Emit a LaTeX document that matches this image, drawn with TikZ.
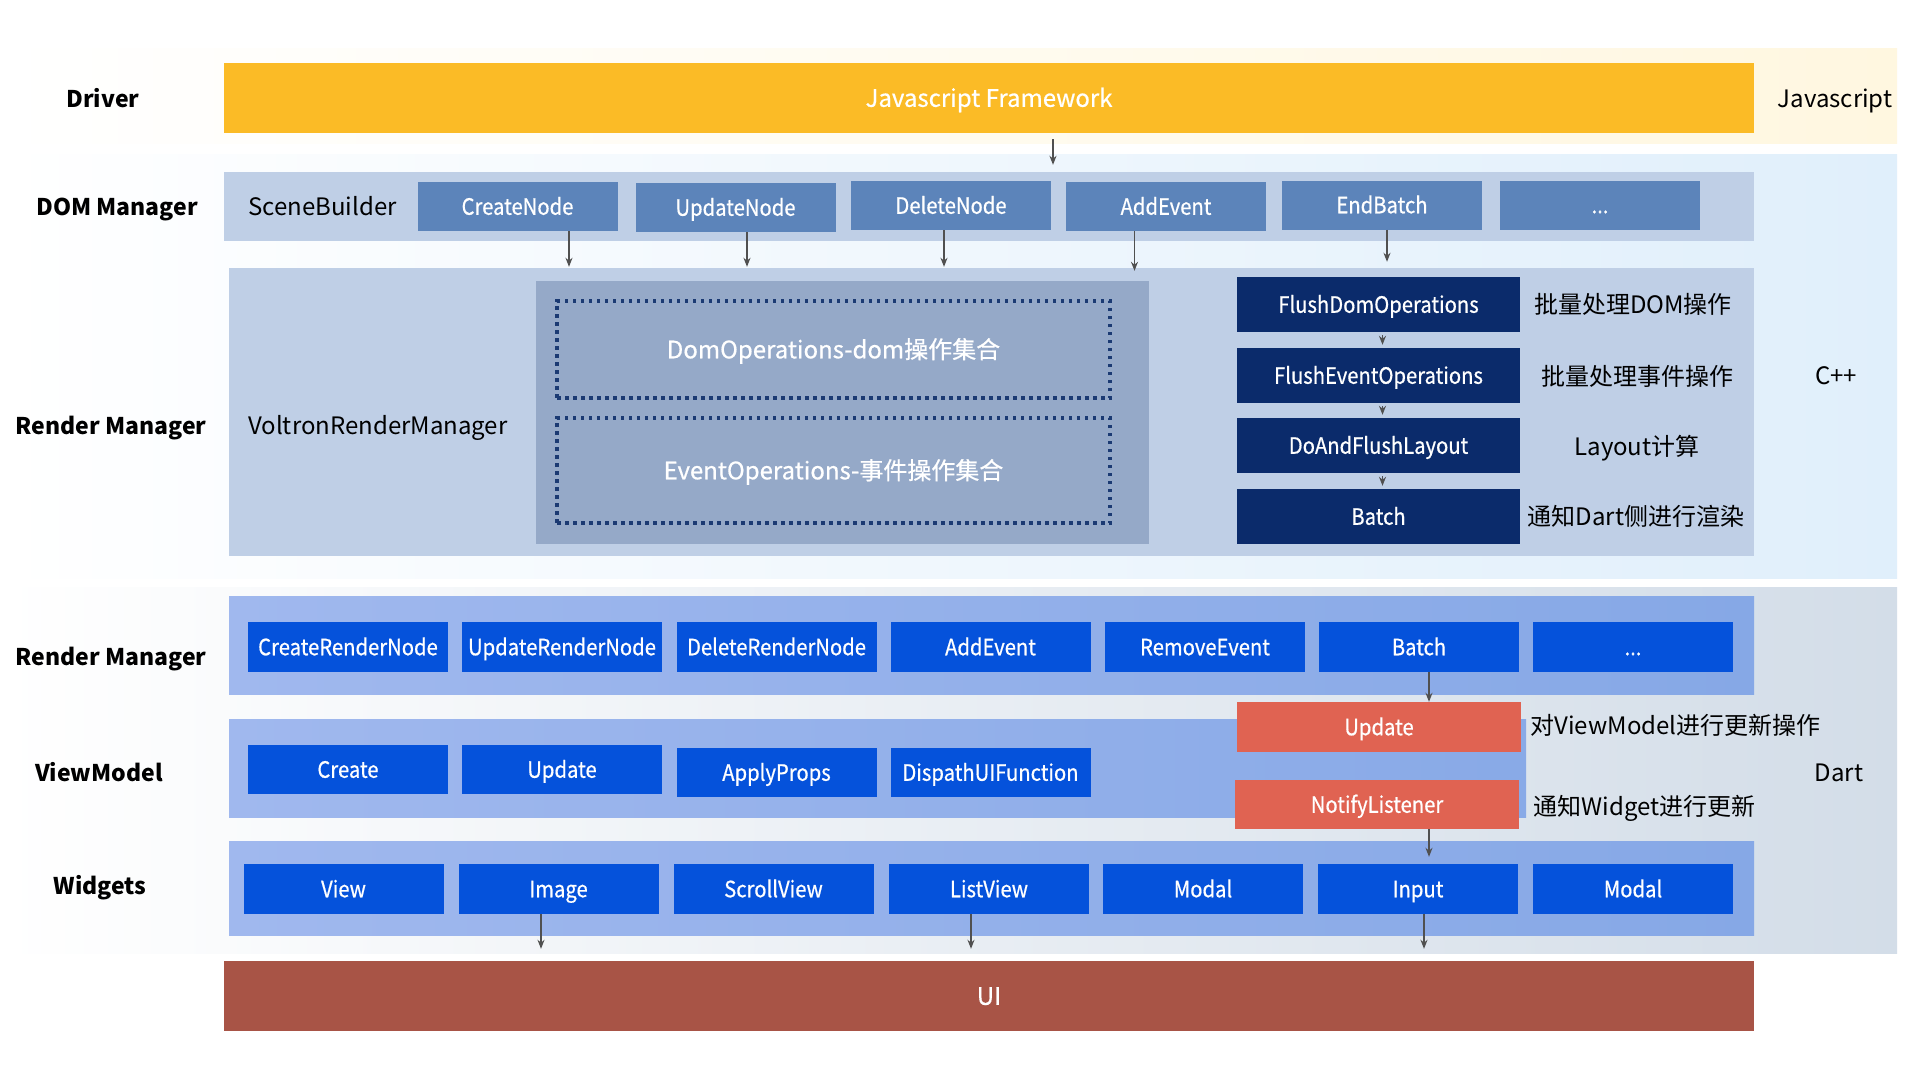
\documentclass[tikz,border=0pt]{standalone}
\usepackage{fontspec}
\setmainfont{Noto Sans CJK SC}
\newfontfamily\btnfont{Noto Sans CJK SC}[FakeStretch=0.9,FakeBold=0.6]
\newfontfamily\wfont{Noto Sans CJK SC}[FakeBold=0.6]
\usetikzlibrary{arrows.meta}
\definecolor{orangebar}{HTML}{FBBB26}
\definecolor{dombar}{HTML}{BFCFE6}
\definecolor{dombtn}{HTML}{5C84BA}
\definecolor{inner}{HTML}{95A9C8}
\definecolor{dotc}{HTML}{1B3A73}
\definecolor{navy}{HTML}{0B2B6B}
\definecolor{dartbtn}{HTML}{0552DB}
\definecolor{dartL}{HTML}{A0B8EE}
\definecolor{dartR}{HTML}{86A8E6}
\definecolor{redbox}{HTML}{E06352}
\definecolor{uibar}{HTML}{A85446}
\definecolor{ybg}{HTML}{FFF7E0}
\definecolor{cbg}{HTML}{E0EFFB}
\definecolor{dbg}{HTML}{D3DDE8}
\definecolor{arrc}{HTML}{505050}
\tikzset{
  lbl/.style={font=\fontsize{23}{27}\selectfont\bfseries, text=black, inner sep=0, text height=17.9pt, text depth=1pt},
  txt/.style={font=\fontsize{24}{28}\selectfont, text=black, inner sep=0, text height=18.6pt, text depth=1pt},
  wtxt/.style={text=white, font=\wfont\fontsize{24}{28}\selectfont, text height=18.6pt, text depth=1pt},
  bar/.style={draw=none, inner sep=0, minimum width=1525pt},
  btnbox/.style={draw=none, inner sep=0, minimum width=200pt, minimum height=50pt, text=white, font=\btnfont\fontsize{22.5}{26}\selectfont, text height=18pt, text depth=1.5pt},
  dbtn/.style={btnbox, fill=dombtn},
  nbtn/.style={btnbox, fill=navy, minimum width=283pt, minimum height=55pt},
  bbtn/.style={btnbox, fill=dartbtn},
  rbtn/.style={btnbox, fill=redbox, minimum width=284pt},
  dotbox/.style={wtxt, draw=dotc, line width=3.5pt, dash pattern=on 3.5pt off 4.5pt, minimum width=553pt, inner sep=0},
  arr/.style={draw=arrc, line width=1.4pt, -{Stealth[length=9pt,width=7pt]}}
}
\begin{document}
\begin{tikzpicture}[x=1pt,y=-1pt]
\useasboundingbox (0,0) rectangle (1920,1080);
\fill[white] (0,0) rectangle (1920,1080);
% background regions
\shade[left color=white, right color=ybg] (0,48) rectangle (1897,143);
\shade[left color=white, right color=cbg] (0,154) rectangle (1897,578);
\shade[left color=white, right color=dbg] (0,587) rectangle (1897,953);

% Driver
\node[lbl] (lDriver) at (103,99) {Driver};
\node[bar, wtxt, fill=orangebar, minimum width=1530pt, minimum height=70pt] (js) at (989,98) {Javascript Framework};
\node[txt] (lJs) at (1835,99) {Javascript};

% DOM Manager
\node[lbl] (lDom) at (117,207) {DOM Manager};
\node[bar, fill=dombar, minimum width=1530pt, minimum height=69pt] (dom) at (989,206.5) {};
\node[txt, anchor=west] (scene) at (248,207) {SceneBuilder};
\node[dbtn, minimum height=49pt] (cn) at (517.5,206.5) {CreateNode};
\node[dbtn, minimum height=49pt] (un) at (735.5,207.5) {UpdateNode};
\node[dbtn, minimum height=49pt] (dn) at (951,205.5) {DeleteNode};
\node[dbtn, minimum height=49pt] (ae) at (1166,206.5) {AddEvent};
\node[dbtn, minimum height=49pt] (eb) at (1382,205) {EndBatch};
\node[dbtn, minimum height=49pt] (dd) at (1600,205) {...};
\draw[arr, shorten <=6pt, shorten >=7pt] ([xshift=64pt]js.south) -- ([xshift=64pt]js.south |- dom.north);

% Render Manager (C++)
\node[lbl] (lRm) at (111,426) {Render Manager};
\node[bar, fill=dombar, minimum height=288pt] (rm) at (991.5,412) {};
\node[txt, anchor=west] (voltron) at (248,426) {VoltronRenderManager};
\node[fill=inner, inner sep=0, minimum width=613pt, minimum height=263pt] (inbox) at (842.5,412.5) {};
\node[dotbox, minimum height=97pt] (domops) at (833.5,349.5) {DomOperations-dom操作集合};
\node[dotbox, minimum height=105pt] (evops) at (833.5,470.5) {EventOperations-事件操作集合};
\node[nbtn] (fd) at (1378.5,304.5) {FlushDomOperations};
\node[nbtn] (fe) at (1378.5,375.5) {FlushEventOperations};
\node[nbtn] (dl) at (1378.5,445.5) {DoAndFlushLayout};
\node[nbtn] (bt) at (1378.5,516.5) {Batch};
\node[txt] (t1) at (1633,305) {批量处理DOM操作};
\node[txt] (t2) at (1637,377) {批量处理事件操作};
\node[txt] (t3) at (1637,447) {Layout计算};
\node[txt] (t4) at (1636,517) {通知Dart侧进行渲染};
\node[txt] (lCpp) at (1836,376) {C++};
\draw[arr, shorten <=3pt, shorten >=3pt] ([xshift=4pt]fd.south) -- ([xshift=4pt]fe.north);
\draw[arr, shorten <=3pt, shorten >=3pt] ([xshift=4pt]fe.south) -- ([xshift=4pt]dl.north);
\draw[arr, shorten <=3pt, shorten >=3pt] ([xshift=4pt]dl.south) -- ([xshift=4pt]bt.north);
% DOM -> Render manager arrows
\draw[arr, shorten >=1pt] ([xshift=51.5pt]cn.south) -- ([xshift=51.5pt]cn.south |- rm.north);
\draw[arr, shorten >=1pt] ([xshift=11.5pt]un.south) -- ([xshift=11.5pt]un.south |- rm.north);
\draw[arr, shorten >=1pt] ([xshift=-7pt]dn.south) -- ([xshift=-7pt]dn.south |- rm.north);
\draw[arr, shorten >=-3pt] ([xshift=-31.5pt]ae.south) -- ([xshift=-31.5pt]ae.south |- rm.north);
\draw[arr, shorten >=6pt] ([xshift=5pt]eb.south) -- ([xshift=5pt]eb.south |- rm.north);

% Render Manager (Dart)
\node[lbl] (lRm2) at (111,657) {Render Manager};
\node[bar, left color=dartL, right color=dartR, minimum height=98pt] (rmd) at (991.5,645) {};
\node[bbtn] (crn) at (348,647) {CreateRenderNode};
\node[bbtn] (urn) at (562,647) {UpdateRenderNode};
\node[bbtn] (drn) at (776.5,647) {DeleteRenderNode};
\node[bbtn] (aev) at (990.5,647) {AddEvent};
\node[bbtn] (rev) at (1205,647) {RemoveEvent};
\node[bbtn] (dbt) at (1419,647) {Batch};
\node[bbtn] (ddd) at (1633,647) {...};

% ViewModel
\node[lbl] (lVm) at (99,773) {ViewModel};
\node[bar, left color=dartL, right color=dartR!90!dartL, minimum width=1297pt, minimum height=98pt] (vm) at (877.5,768) {};
\node[bbtn, minimum height=49pt] (cr) at (348,769.5) {Create};
\node[bbtn, minimum height=49pt] (up) at (562,769.5) {Update};
\node[bbtn, minimum height=49pt] (ap) at (776.5,772.5) {ApplyProps};
\node[bbtn, minimum height=49pt] (dui) at (990.5,772.5) {DispathUIFunction};
\node[rbtn] (rupd) at (1379,727) {Update};
\node[rbtn, minimum height=49pt] (nl) at (1377,804.5) {NotifyListener};
\node[txt] (t5) at (1675.5,726) {对ViewModel进行更新操作};
\node[txt] (t6) at (1644.5,807) {通知Widget进行更新};
\node[txt] (lDart) at (1839,773) {Dart};
\draw[arr] ([xshift=10pt]dbt.south) -- ([xshift=10pt]dbt.south |- rupd.north);

% Widgets
\node[lbl] (lW) at (100,886) {Widgets};
\node[bar, left color=dartL, right color=dartR, minimum height=94pt] (wg) at (991.5,888) {};
\node[bbtn] (wv) at (343.5,889) {View};
\node[bbtn] (wi) at (558.5,889) {Image};
\node[bbtn] (ws) at (773.5,889) {ScrollView};
\node[bbtn] (wl) at (989,889) {ListView};
\node[bbtn] (wm) at (1203,889) {Modal};
\node[bbtn] (win) at (1418,889) {Input};
\node[bbtn] (wm2) at (1633,889) {Modal};
\draw[arr, shorten >=7pt] ([xshift=52pt]nl.south) -- ([xshift=52pt]nl.south |- win.north);

% UI
\node[bar, wtxt, fill=uibar, minimum width=1530pt, minimum height=70pt] (ui) at (989,996) {UI};
\draw[arr, shorten >=12pt] ([xshift=-17.5pt]wi.south) -- ([xshift=-17.5pt]wi.south |- ui.north);
\draw[arr, shorten >=12pt] ([xshift=-18pt]wl.south) -- ([xshift=-18pt]wl.south |- ui.north);
\draw[arr, shorten >=12pt] ([xshift=6pt]win.south) -- ([xshift=6pt]win.south |- ui.north);
\end{tikzpicture}
\end{document}
